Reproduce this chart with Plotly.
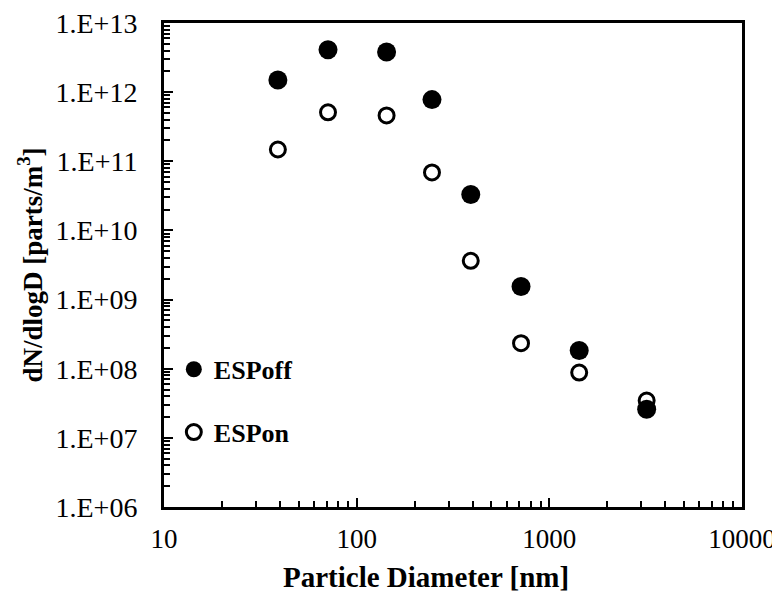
import plotly.graph_objects as go

diameter_nm = [39, 71, 143, 246, 391, 713, 1429, 3200]
esp_off = [1.5e12, 4.1e12, 3.8e12, 7.8e11, 3.3e10, 1.55e9, 1.83e8, 2.6e7]
esp_on = [1.48e11, 5.1e11, 4.6e11, 6.9e10, 3.64e9, 2.34e8, 8.8e7, 3.46e7]

y_tickvals = [1e6, 1e7, 1e8, 1e9, 1e10, 1e11, 1e12, 1e13]
y_ticktext = ["1.E+06", "1.E+07", "1.E+08", "1.E+09", "1.E+10", "1.E+11", "1.E+12", "1.E+13"]
x_tickvals = [10, 100, 1000, 10000]
x_ticktext = ["10", "100", "1000", "10000"]

x_minor = [m * d for d in (10, 100, 1000) for m in range(2, 10)]
y_minor = [m * 10 ** e for e in range(6, 13) for m in range(2, 10)]

FONT = "Liberation Serif, Times New Roman, serif"

fig = go.Figure()
fig.add_trace(go.Scatter(
    x=diameter_nm, y=esp_on, mode="markers", name="<b>ESPon</b>",
    legendgroup="on", legendrank=2,
    marker=dict(symbol="circle", size=15, color="white", line=dict(color="black", width=3)),
))
fig.add_trace(go.Scatter(
    x=diameter_nm, y=esp_off, mode="markers", name="<b>ESPoff</b>",
    legendgroup="off", legendrank=1,
    marker=dict(symbol="circle", size=19, color="black", line=dict(color="black", width=0)),
))

fig.update_layout(
    width=772, height=584,
    margin=dict(l=156, r=38, t=15, b=85),
    paper_bgcolor="white", plot_bgcolor="white",
    font=dict(family=FONT, color="black", size=27),
    showlegend=True,
    legend=dict(x=0.017, y=0.333, xanchor="left", yanchor="top",
                bgcolor="rgba(0,0,0,0)", font=dict(size=26, family=FONT),
                tracegroupgap=26, itemsizing="trace"),
    xaxis=dict(
        type="log", range=[1, 4], automargin=False,
        tickmode="array", tickvals=x_tickvals, ticktext=x_ticktext,
        ticklabeloverflow="allow",
        ticks="inside", ticklen=9, tickwidth=2, tickcolor="black",
        minor=dict(tickmode="array", tickvals=x_minor, ticks="inside", ticklen=6,
                   tickwidth=2, tickcolor="black", showgrid=False),
        showline=True, linewidth=3, linecolor="black", mirror=True,
        showgrid=False, zeroline=False,
        tickfont=dict(size=27, family=FONT),
        ticklabelstandoff=6,
    ),
    yaxis=dict(
        type="log", range=[6, 13], automargin=False,
        tickmode="array", tickvals=y_tickvals, ticktext=y_ticktext,
        ticklabeloverflow="allow",
        ticks="inside", ticklen=9, tickwidth=2, tickcolor="black",
        minor=dict(tickmode="array", tickvals=y_minor, ticks="inside", ticklen=6,
                   tickwidth=2, tickcolor="black", showgrid=False),
        showline=True, linewidth=3, linecolor="black", mirror=True,
        showgrid=False, zeroline=False,
        tickfont=dict(size=28, family=FONT),
        ticklabelstandoff=18,
        title=dict(text="<b>dN/dlogD [parts/m<sup>3</sup>]</b>", font=dict(size=27, family=FONT), standoff=6),
    ),
    annotations=[dict(
        text="<b>Particle Diameter [nm]</b>", xref="paper", yref="paper",
        x=0.453, y=-0.145, xanchor="center", yanchor="middle", showarrow=False,
        font=dict(size=29, family=FONT, color="black"),
    )],
)

fig.write_html("out.html")
